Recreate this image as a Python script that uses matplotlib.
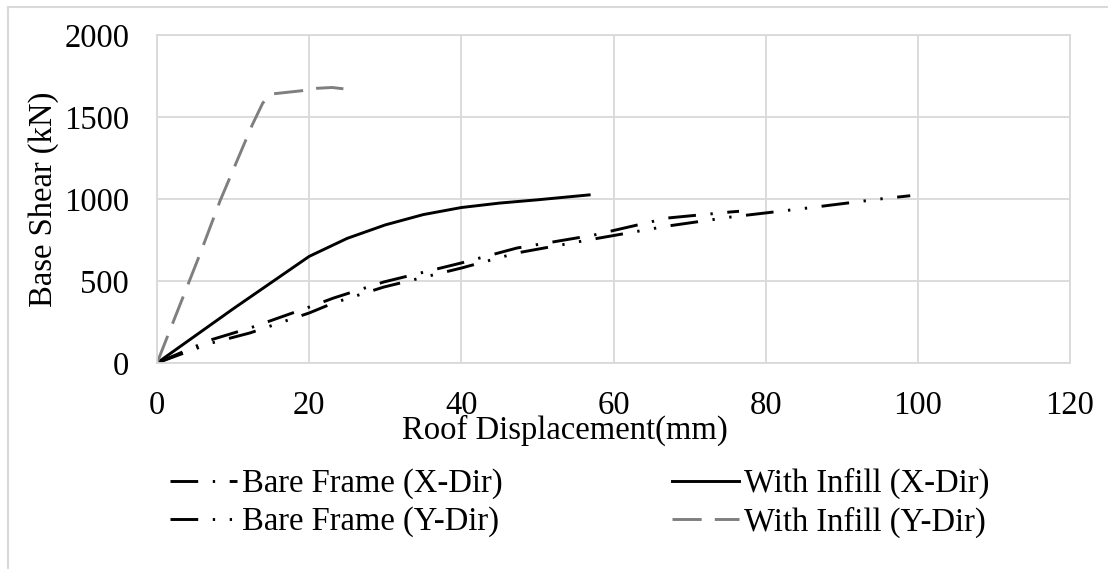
import matplotlib.pyplot as plt
from matplotlib.lines import Line2D

# Roof displacement (mm) vs base shear (kN)
bare_x_disp = [0, 7, 12.2, 20, 23.2, 29.8, 40, 47.3, 57.4, 67.1, 75.4, 76.5]
bare_x_shear = [0, 140, 213, 341, 396, 494, 610, 701, 780, 884, 921, 925]

bare_y_disp = [0, 7, 12.2, 20, 23.2, 29.8, 40, 47.3, 57.4, 67.1, 75.4, 85.5, 95, 99]
bare_y_shear = [0, 120, 183, 305, 366, 463, 579, 671, 756, 835, 890, 945, 1000, 1020]

infill_x_disp = [0, 5, 10, 15, 20, 25, 30, 35, 40, 45, 50, 56.8]
infill_x_shear = [0, 165, 330, 490, 650, 760, 842, 905, 948, 975, 995, 1025]

infill_y_disp = [0, 5.7, 8.3, 12.5, 13.9, 15, 19, 21, 23, 24.5]
infill_y_shear = [0, 670, 990, 1450, 1585, 1640, 1660, 1675, 1680, 1672]

labels = ["Bare Frame (X-Dir)", "Bare Frame (Y-Dir)",
          "With Infill (X-Dir)", "With Infill (Y-Dir)"]

plt.rcParams["font.family"] = ["Liberation Serif", "DejaVu Serif"]
grid_col = "#d9d9d9"
fs = 23.5

fig = plt.figure(figsize=(11.08, 5.69), dpi=100)
ax = fig.add_axes([157 / 1108, 206 / 569, 913 / 1108, 328 / 569])

lw = 2.1
l1, = ax.plot(bare_x_disp, bare_x_shear, color="black", lw=lw,
              dashes=(9.5, 5, 0.8, 5))
l2, = ax.plot(bare_y_disp, bare_y_shear, color="black", lw=lw,
              dashes=(9.5, 5, 0.8, 5, 0.8, 5))
l3, = ax.plot(infill_x_disp, infill_x_shear, color="black", lw=lw)
l4, = ax.plot(infill_y_disp, infill_y_shear, color="#7f7f7f", lw=lw,
              dashes=(10, 4.5))

ax.set_xlim(0, 120)
ax.set_ylim(0, 2000)
ax.set_xticks(range(0, 121, 20))
ax.set_yticks(range(0, 2001, 500))
ax.grid(True, color=grid_col, lw=1.3)
ax.set_axisbelow(True)
for s in ax.spines.values():
    s.set_color(grid_col)
    s.set_linewidth(1.3)
ax.tick_params(axis="x", length=0, labelsize=fs, pad=20)
ax.tick_params(axis="y", length=0, labelsize=fs, pad=20)

ax.set_xlabel("Roof Displacement(mm)", fontsize=fs)
ax.xaxis.set_label_coords((565 - 157) / 913, -52 / 328)
ax.set_ylabel("Base Shear (kN)", fontsize=fs)
ax.yaxis.set_label_coords(-98 / 913, 0.5)

fig.legend([l1, l2, l3, l4], labels, ncol=2, loc="center",
           bbox_to_anchor=(580 / 1108, 1 - 503 / 569), frameon=False,
           fontsize=fs, handlelength=2.05, handletextpad=0.15,
           columnspacing=5.2, labelspacing=0.22)

# outer chart-area border (top and left only are visible)
fig.add_artist(Line2D([8 / 1108, 1], [1 - 7 / 569] * 2, color=grid_col, lw=1.5))
fig.add_artist(Line2D([8 / 1108] * 2, [0, 1 - 7 / 569], color=grid_col, lw=1.5))

fig.savefig("out.png", dpi=100)
